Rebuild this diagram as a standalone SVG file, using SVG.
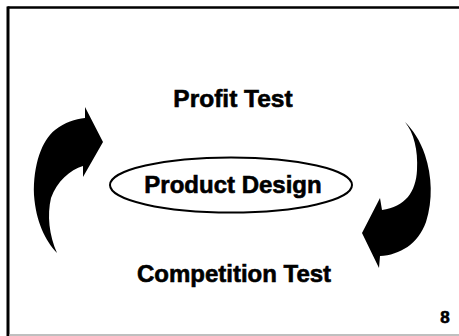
<svg xmlns="http://www.w3.org/2000/svg" width="459" height="336" viewBox="0 0 459 336">
<style>
.t{font-family:"Liberation Sans",Arial,sans-serif;font-weight:bold;fill:#000;stroke:#000;stroke-width:0.6;text-anchor:middle}
.arrow{fill:#000;stroke:none}
</style>
<rect x="0" y="0" width="459" height="336" fill="#fff"/>
<g id="frame">
<line x1="7.5" y1="7.5" x2="459" y2="7.5" stroke="#000" stroke-width="2.5"/>
<line x1="8" y1="6.5" x2="8" y2="336" stroke="#000" stroke-width="3"/>
<line x1="9" y1="335" x2="459" y2="335" stroke="#aaa" stroke-width="1.5"/>
</g>
<g id="profit-test"><text class="t" x="233" y="107" font-size="24.5">Profit Test</text></g>
<g id="product-design">
<ellipse cx="231" cy="185" rx="121" ry="27.5" fill="none" stroke="#000" stroke-width="2"/>
<text class="t" x="233" y="193" font-size="24">Product Design</text>
</g>
<g id="competition-test"><text class="t" x="234" y="282" font-size="24">Competition Test</text></g>
<g id="page-number"><text class="t" x="445" y="323" font-size="17">8</text></g>
<g id="connectors">
<path class="arrow" d="M85,107 L103,142 L83,177 L83,166 C70,170 57,181 51,198 C47,215 49,235 57,253 C45,240 36,222 34,195 C33,165 42,140 55,130 C65,122 75,119 85,118 Z"/>
<path class="arrow" d="M405,122 C414,133 418,150 417,170 C416,192 405,207 382,210 L380,198 L362,233 L379,268 L380,256 C400,255 418,244 426,222 C433,200 432,176 425,155 C420,140 413,130 405,122 Z"/>
</g>
</svg>
